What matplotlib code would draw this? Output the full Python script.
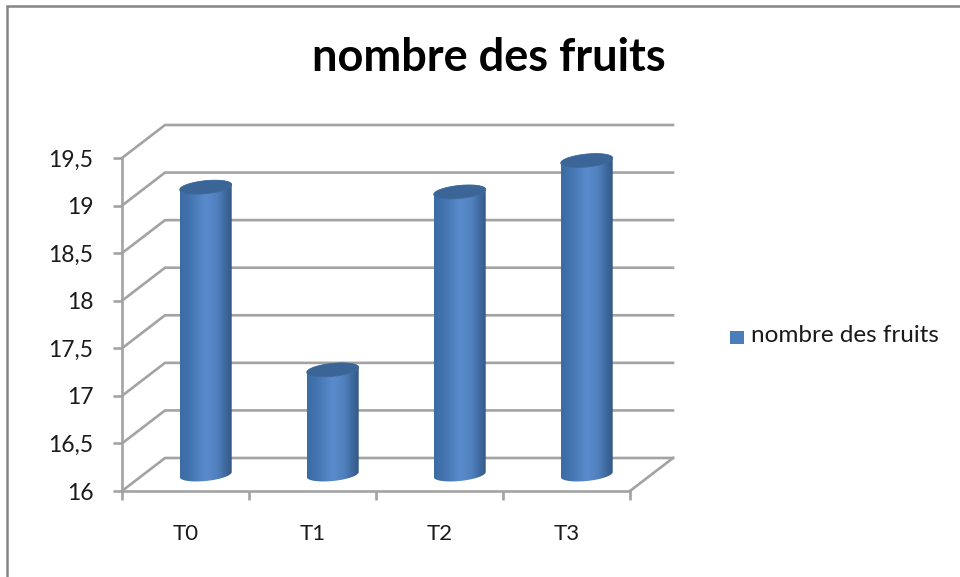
import numpy as np
import matplotlib
matplotlib.use("Agg")
import matplotlib.pyplot as plt
from matplotlib.colors import LinearSegmentedColormap
from matplotlib.patches import PathPatch, Polygon, Rectangle
from matplotlib.path import Path
from matplotlib.lines import Line2D

categories = ["T0", "T1", "T2", "T3"]
values = [19.02, 17.1, 18.97, 19.3]
series_name = "nombre des fruits"
y_ticks = [16, 16.5, 17, 17.5, 18, 18.5, 19, 19.5]
y_tick_labels = ["16", "16,5", "17", "17,5", "18", "18,5", "19", "19,5"]

W, H = 960, 577
plt.rcParams["font.family"] = ["Lato", "DejaVu Sans"]
fig = plt.figure(figsize=(W / 100, H / 100), dpi=100, facecolor="white")

# plot frame in pixels (front plane)
L, R, T, B = 122, 630, 158, 491
ax = fig.add_axes([L / W, 1 - B / H, (R - L) / W, (B - T) / H])
ax.set_xlim(0, 4)
ax.set_ylim(16, 19.5)
ax.patch.set_alpha(0)
px = 4 / (R - L)
py = 3.5 / (B - T)
dx, dy = 43 * px, 33 * py  # depth offset

GRID = "#a3a3a3"
LW = 1.9
for s in ("top", "right"):
    ax.spines[s].set_visible(False)
for s in ("left", "bottom"):
    ax.spines[s].set_color(GRID)
    ax.spines[s].set_linewidth(LW)
ax.set_xticks(range(5))
ax.set_xticklabels([])
ax.set_yticks(y_ticks)
ax.set_yticklabels(y_tick_labels, fontsize=16.5, color="#1a1a1a")
ax.tick_params(axis="both", color=GRID, width=LW, length=6.5)
ax.tick_params(axis="y", pad=14)

for i, c in enumerate(categories):
    ax.text(i + 0.5, 16 - 43 * py, c, ha="center", va="center", fontsize=16, color="#1a1a1a")

# back-wall gridlines and side-wall diagonals
for y in y_ticks:
    ax.plot([0, dx, 4 + dx], [y, y + dy, y + dy], color=GRID, lw=LW, clip_on=False, zorder=1,
            solid_joinstyle="miter")
ax.plot([4, 4 + dx], [16, 16 + dy], color=GRID, lw=LW, clip_on=False, zorder=1)

# cylinders
cmap = LinearSegmentedColormap.from_list(
    "cyl", [(0, "#3d6ca4"), (0.15, "#4172ad"), (0.5, "#5a8bcd"), (0.72, "#5080bd"), (0.92, "#3a6396"), (1, "#345880")])
grad = np.linspace(0, 1, 128).reshape(1, -1)
a, b, shear = 26 * px, 6.5 * py, 2.5 * py
t = np.linspace(0, 2 * np.pi, 121)


def ell(cx, cy, tt):
    return np.column_stack([cx + a * np.cos(tt), cy + b * np.sin(tt) + shear * np.cos(tt)])


for i, v in enumerate(values):
    cx = i + 0.5 + dx * 0.47
    y0 = 16 + dy / 2
    ytop = v + dy / 2
    bottom = ell(cx, y0, np.linspace(np.pi, 2 * np.pi, 60))
    upper = ell(cx, ytop, np.linspace(0, np.pi, 60))
    body = Polygon(np.vstack([bottom, upper]), closed=True, transform=ax.transData,
                   fc="none", ec="none", clip_on=False)
    ax.add_patch(body)
    im = ax.imshow(grad, cmap=cmap, aspect="auto", extent=(cx - a, cx + a, 15.8, 19.9),
                   zorder=3, interpolation="bilinear", clip_on=True)
    im.set_clip_path(body)
    top = ell(cx, ytop, t)
    ax.add_patch(PathPatch(Path(top), fc="#3b6596", ec="#3f6b9f", lw=0.6, zorder=4, clip_on=False))
ax.set_xlim(0, 4)
ax.set_ylim(16, 19.5)

# title, legend and outer frame
fig.text(489 / W, 1 - 58 / H, series_name, ha="center", va="center", fontsize=32.5, fontweight="bold", color="black")
fig.add_artist(Rectangle((730 / W, 1 - 344 / H), 14 / W, 13 / H, transform=fig.transFigure, fc="#4a7ebb", ec="none"))
fig.text(751 / W, 1 - 336 / H, series_name, ha="left", va="center", fontsize=17.5, color="#1a1a1a")
fig.add_artist(Line2D([7 / W, 7 / W, 1], [0, 1 - 6 / H, 1 - 6 / H], transform=fig.transFigure, color="#858585", lw=1.8,
                      solid_joinstyle="miter"))

fig.savefig("out.png", dpi=100)
